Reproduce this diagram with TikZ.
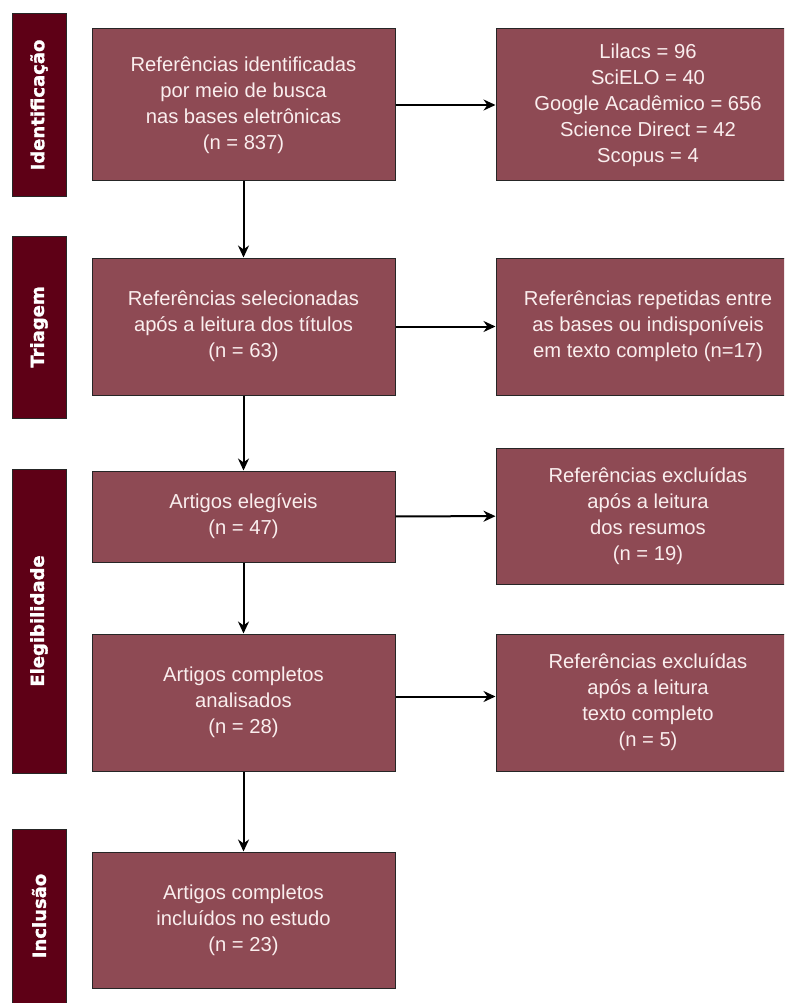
\documentclass[tikz,border=0pt]{standalone}
\usepackage{fontspec}
\setmainfont{Liberation Sans}
\newfontfamily\phasefont[BoldFeatures={FakeBold=1.5}]{DejaVu Sans}
\usetikzlibrary{arrows.meta}
\definecolor{boxred}{RGB}{142,74,84}
\definecolor{barred}{RGB}{94,0,22}
\definecolor{boxtext}{RGB}{250,238,238}

\begin{document}
\begin{tikzpicture}[x=1pt,y=-1pt]
\tikzstyle{stage}=[draw=black!85,line width=1pt,fill=boxred,text=boxtext,align=center,
    minimum width=303pt,inner sep=0pt,font=\fontsize{20.2}{26}\selectfont]
\tikzstyle{note}=[stage,minimum width=304pt]
\tikzstyle{phase}=[draw=black!85,line width=1pt,fill=barred,minimum width=54pt,inner sep=0pt]
\tikzstyle{phasetext}=[rotate=90,text=white,font=\phasefont\bfseries\fontsize{18}{22}\selectfont]
\tikzstyle{flow}=[line width=2pt,-{Stealth[length=12pt,width=11pt]}]
\useasboundingbox (0,0) rectangle (784,1003);
\clip (0,0) rectangle (784,1003);
% fases
\node [phase,minimum height=182pt] (idf) at (39,105) {};
\node [phasetext] at (idf) {Identificação};
\node [phase,minimum height=182pt] (tri) at (39,327) {};
\node [phasetext] at (tri) {Triagem};
\node [phase,minimum height=304pt] (ele) at (39,621) {};
\node [phasetext] at (ele) {Elegibilidade};
\node [phase,minimum height=200pt] (inc) at (39,929) {};
\node [phasetext] at (inc.center |- 0,916) {Inclusão};
% caixas principais
\node [stage,minimum height=152pt] (ident) at (243.5,105)
    {Referências identificadas\\por meio de busca\\nas bases eletrônicas\\(n = 837)};
\node [stage,minimum height=137pt] (sel) at (243.5,326.5)
    {Referências selecionadas\\após a leitura dos títulos\\(n = 63)};
\node [stage,minimum height=91pt] (eleg) at (243.5,516.5)
    {Artigos elegíveis\\(n = 47)};
\node [stage,minimum height=137pt] (comp) at (243.5,702.5)
    {Artigos completos\\analisados\\(n = 28)};
\node [stage,minimum height=136pt] (incl) at (243.5,920)
    {Artigos completos\\incluídos no estudo\\(n = 23)};
% caixas laterais
\node [note,minimum height=152pt] (bases) at (648,105)
    {Lilacs = 96\\SciELO = 40\\Google Acadêmico = 656\\Science Direct = 42\\Scopus = 4};
\node [note,minimum height=137pt] (rep) at (648,326.5)
    {Referências repetidas entre\\as bases ou indisponíveis\\em texto completo (n=17)};
\node [note,minimum height=136pt] (exres) at (648,516)
    {Referências excluídas\\após a leitura\\dos resumos\\(n = 19)};
\node [note,minimum height=137pt] (extex) at (648,702.5)
    {Referências excluídas\\após a leitura\\texto completo\\(n = 5)};
% setas
\draw [flow] (ident) -- (sel);
\draw [flow] (sel) -- (eleg);
\draw [flow] (eleg) -- (comp);
\draw [flow] (comp) -- (incl);
\draw [flow] (ident) -- (bases);
\draw [flow] (sel) -- (rep);
\draw [flow] (eleg) -- (exres);
\draw [flow] ([yshift=6pt]comp.east) -- ([yshift=6pt]comp.east -| extex.west);
\end{tikzpicture}
\end{document}
